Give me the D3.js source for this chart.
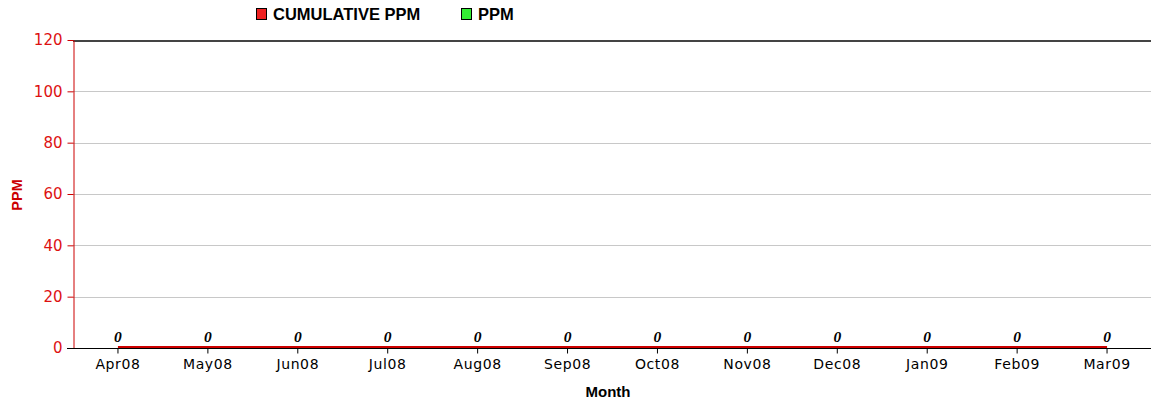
<!DOCTYPE html>
<html><head><meta charset="utf-8">
<script src="https://cdn.jsdelivr.net/npm/d3@7"></script>
<style>body{margin:0;background:#fff}svg{display:block}</style>
</head><body><svg id="c" width="1151" height="404"></svg>
<script>
const months = ["Apr08","May08","Jun08","Jul08","Aug08","Sep08","Oct08","Nov08","Dec08","Jan09","Feb09","Mar09"];
const cumulativePPM = [0,0,0,0,0,0,0,0,0,0,0,0];
const ppm = [0,0,0,0,0,0,0,0,0,0,0,0];
const yTicks = [0,20,40,60,80,100,120];
const seriesNames = ["CUMULATIVE PPM","PPM"];
const seriesColors = ["#ee2222","#33ee33"];

const SANS = '"DejaVu Sans",Verdana,sans-serif';
const ARIAL = '"Liberation Sans",Arial,sans-serif';
const svg = d3.select("#c");
const L = 73, R = 1152, T = 40, B = 348;
const x = d3.scaleBand().domain(months).range([L, R]);
const y = d3.scaleLinear().domain([0,120]).range([B, T]);

// grid
svg.append("g").selectAll("line").data(yTicks.filter(d=>d>0 && d<120)).join("line")
  .attr("x1", L).attr("x2", 1151).attr("y1", d=>Math.round(y(d))+0.5).attr("y2", d=>Math.round(y(d))+0.5)
  .attr("stroke", "#c8c8c8").attr("stroke-width", 1);
// top border
svg.append("line").attr("x1", L).attr("x2", 1151).attr("y1", y(120)+1).attr("y2", y(120)+1)
  .attr("stroke", "#444").attr("stroke-width", 2);

// y axis
const ya = svg.append("g").attr("transform", `translate(${L+0.5},0)`)
  .call(d3.axisLeft(y).tickValues(yTicks).tickSize(6).tickPadding(5).tickSizeOuter(0));
ya.select(".domain").attr("stroke", "#cc0000");
ya.selectAll(".tick line").attr("stroke", "#cc0000");
ya.selectAll(".tick text").attr("fill", "#dd1111").style("font-size", "15px").style("font-family", SANS);

// x axis
const xa = svg.append("g").attr("transform", `translate(0,${B+0.5})`)
  .call(d3.axisBottom(x).tickSize(5).tickPadding(6).tickSizeOuter(0));
xa.select(".domain").attr("stroke", "#000").attr("d", `M${L-6},0H1151`);
xa.selectAll(".tick line").attr("stroke", "#000");
xa.selectAll(".tick text").attr("fill", "#000").style("font-size", "14px").style("font-family", SANS)
  .attr("letter-spacing", 0.6);

// lines
const cx = d => x(d) + x.bandwidth()/2;
const line = d3.line().x((d,i)=>cx(months[i])).y(d=>y(d));
svg.append("path").datum(ppm).attr("d", line).attr("fill","none").attr("stroke", "#22bb22").attr("stroke-width", 2).attr("transform","translate(0,-1)");
svg.append("path").datum(cumulativePPM).attr("d", line).attr("fill","none").attr("stroke", "#cc0000").attr("stroke-width", 2).attr("transform","translate(0,-1)");

// value labels
svg.append("g").selectAll("text").data(cumulativePPM).join("text")
  .attr("x", (d,i)=>cx(months[i])).attr("y", d=>y(d)-6)
  .attr("text-anchor","middle").attr("font-family",'"Liberation Serif","Times New Roman",serif')
  .attr("font-weight","bold").attr("font-style","italic").attr("font-size", 15.5).text(d=>d);

// axis titles
svg.append("text").attr("x", 608).attr("y", 397).attr("text-anchor","middle")
  .attr("font-family", ARIAL).attr("font-weight","bold").attr("font-size", 15).text("Month");
svg.append("text").attr("transform","translate(22,195) rotate(-90)").attr("text-anchor","middle")
  .attr("font-family", ARIAL).attr("font-weight","bold").attr("font-size", 14.5).attr("fill","#cc0000").text("PPM");

// legend
const legX = [256, 461];
const lg = svg.append("g").selectAll("g").data(seriesNames).join("g")
  .attr("transform", (d,i)=>`translate(${legX[i]},8)`);
lg.append("rect").attr("x",0.5).attr("y",0.5).attr("width",10).attr("height",11)
  .attr("fill",(d,i)=>seriesColors[i]).attr("stroke","#000");
lg.append("text").attr("x",17).attr("y",12).attr("font-family", ARIAL).attr("font-weight","bold").attr("font-size",16.5).text(d=>d);
</script></body></html>
